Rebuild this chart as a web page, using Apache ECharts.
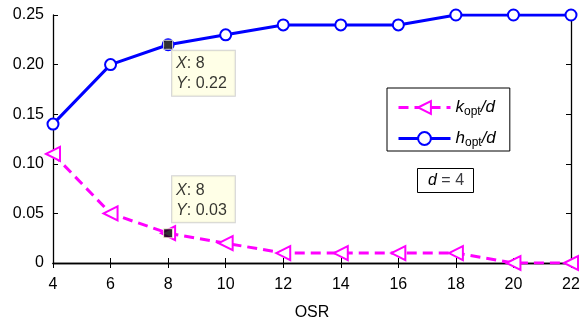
<!DOCTYPE html>
<html>
<head>
<meta charset="utf-8">
<script src="https://cdn.jsdelivr.net/npm/echarts@6/dist/echarts.min.js"></script>
<style>
  html, body { margin: 0; padding: 0; background: #fff; }
  #chart { width: 583px; height: 323px; }
</style>
</head>
<body>
<div id="chart"></div>
<script>
// OSR values on the x axis
const osr = [4, 6, 8, 10, 12, 14, 16, 18, 20, 22];
// k_opt/d and h_opt/d
const kOpt = [0.11, 0.05, 0.03, 0.02, 0.01, 0.01, 0.01, 0.01, 0, 0];
const hOpt = [0.14, 0.20, 0.22, 0.23, 0.24, 0.24, 0.24, 0.25, 0.25, 0.25];
// data tips
const tipH = [8, 0.22];
const tipK = [8, 0.03];

const font = "Liberation Sans, Arial, sans-serif";
const tipRich = {
  i: { fontStyle: "italic", fontSize: 16, fontFamily: font, color: "#000" },
  t: { fontSize: 16, fontFamily: font, color: "#000" }
};
const legendRich = {
  i: { fontStyle: "italic", fontSize: 17, fontFamily: font, color: "#000" },
  s: { fontSize: 12, fontFamily: font, color: "#000", padding: [9, 0, 0, 0] }
};

function pairs(ys) {
  return osr.map((x, i) => [x, ys[i]]);
}

let myChart = echarts.init(document.getElementById("chart"));
let option = {
  animation: false,
  backgroundColor: "#fff",
  textStyle: { fontFamily: font },
  grid: { left: 53, right: 12, top: 15, bottom: 60, outerBoundsMode: "none" },
  title: {
    text: "{i|d} = 4",
    left: 417,
    top: 168,
    padding: [5, 10, 4, 11],
    borderColor: "#000",
    borderWidth: 1,
    backgroundColor: "#fff",
    textStyle: {
      fontSize: 16,
      fontWeight: "normal",
      rich: {
        i: { fontStyle: "italic", fontSize: 16, fontFamily: font, color: "#000" }
      }
    }
  },
  legend: {
    orient: "vertical",
    left: 387,
    top: 88,
    padding: [11, 14, 2, 10],
    itemGap: 12,
    itemWidth: 52,
    itemHeight: 16,
    borderColor: "#000",
    borderWidth: 1,
    backgroundColor: "#fff",
    data: ["k", "h"],
    lineStyle: { width: 3 },
    formatter: function (name) {
      return "{i|" + name + "}{s|opt}{i|/d}";
    },
    textStyle: { fontSize: 17, rich: legendRich }
  },
  xAxis: [
    {
      type: "value",
      min: 4,
      max: 22,
      interval: 2,
      name: "OSR",
      nameLocation: "middle",
      nameGap: 42,
      nameTextStyle: { fontSize: 16, color: "#000" },
      axisLine: { lineStyle: { color: "#000", width: 1.3 } },
      axisTick: { inside: true, length: 5, lineStyle: { color: "#000" } },
      axisLabel: { fontSize: 16, color: "#000", margin: 14 },
      splitLine: { show: false }
    },
    {
      type: "value",
      position: "top",
      min: 4,
      max: 22,
      interval: 2,
      axisLine: { lineStyle: { color: "#000", width: 1.3 } },
      axisTick: { inside: true, length: 5, lineStyle: { color: "#000" } },
      axisLabel: { show: false },
      splitLine: { show: false }
    }
  ],
  yAxis: [
    {
      type: "value",
      min: 0,
      max: 0.25,
      interval: 0.05,
      axisLine: { show: true, lineStyle: { color: "#000", width: 1.3 } },
      axisTick: { show: true, inside: true, length: 5, lineStyle: { color: "#000" } },
      axisLabel: {
        fontSize: 16,
        color: "#000",
        margin: 9,
        formatter: function (v) {
          return v === 0 ? "0" : v.toFixed(2);
        }
      },
      splitLine: { show: false }
    },
    {
      type: "value",
      position: "right",
      min: 0,
      max: 0.25,
      interval: 0.05,
      axisLine: { show: true, lineStyle: { color: "#000", width: 1.3 } },
      axisTick: { show: true, inside: true, length: 5, lineStyle: { color: "#000" } },
      axisLabel: { show: false },
      splitLine: { show: false }
    }
  ],
  series: [
    {
      name: "k",
      type: "line",
      data: pairs(kOpt),
      symbol: "emptyTriangle",
      symbolSize: 14,
      symbolRotate: 90,
      color: "#ff00ff",
      lineStyle: { color: "#ff00ff", width: 3, type: [10, 6] },
      itemStyle: { color: "#ff00ff", borderWidth: 2 },
      z: 3
    },
    {
      name: "h",
      type: "line",
      data: pairs(hOpt),
      symbol: "emptyCircle",
      symbolSize: 11,
      color: "#0000ff",
      lineStyle: { color: "#0000ff", width: 3 },
      itemStyle: { color: "#0000ff", borderWidth: 3 },
      z: 3
    },
    {
      name: "tipH",
      type: "scatter",
      data: [tipH],
      symbol: "rect",
      symbolSize: 9,
      itemStyle: { color: "#000", borderColor: "#ffffe0", borderWidth: 1 },
      label: {
        show: true,
        position: [9, 11],
        formatter: "{i|X}{t|: 8}\n{i|Y}{t|: 0.22}",
        backgroundColor: "#ffffe1",
        borderColor: "#c8c8c8",
        borderWidth: 1,
        padding: [3, 8, 2, 4],
        lineHeight: 20,
        rich: tipRich
      },
      z: 5
    },
    {
      name: "tipK",
      type: "scatter",
      data: [tipK],
      symbol: "rect",
      symbolSize: 9,
      itemStyle: { color: "#000", borderColor: "#ffffe0", borderWidth: 1 },
      label: {
        show: true,
        position: [9, -52],
        formatter: "{i|X}{t|: 8}\n{i|Y}{t|: 0.03}",
        backgroundColor: "#ffffe1",
        borderColor: "#c8c8c8",
        borderWidth: 1,
        padding: [4, 8, 2, 4],
        lineHeight: 20,
        rich: tipRich
      },
      z: 5
    }
  ]
};
myChart.setOption(option, true);
window.addEventListener("resize", () => {
  myChart.resize();
});
</script>
</body>
</html>
